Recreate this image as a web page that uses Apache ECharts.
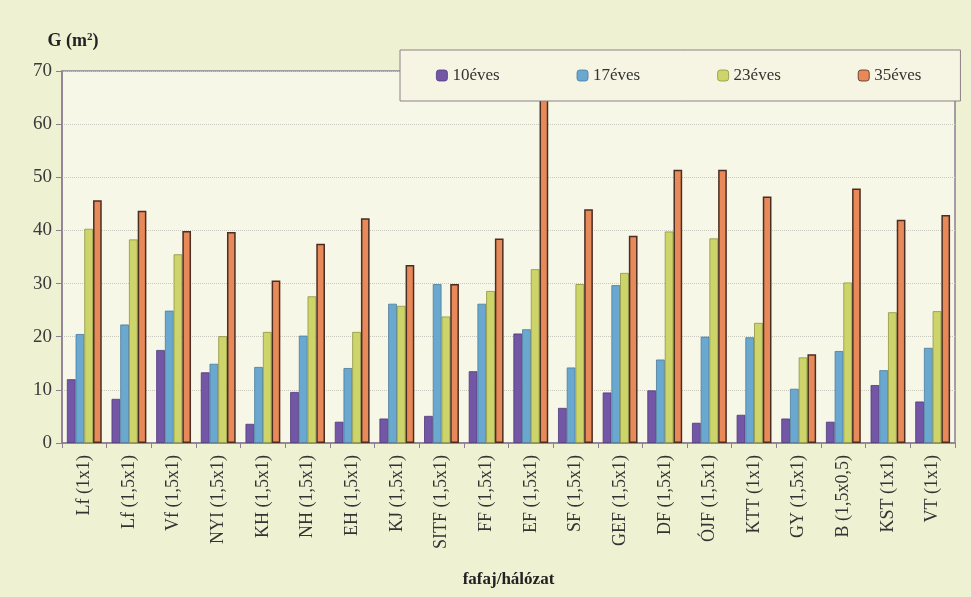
<!DOCTYPE html>
<html>
<head>
<meta charset="utf-8">
<script src="https://cdn.jsdelivr.net/npm/echarts@6/dist/echarts.min.js"></script>
<style>
  html, body { margin: 0; padding: 0; background: #eef1d2; }
  #chart { width: 971px; height: 597px; }
</style>
</head>
<body>
<div id="chart"></div>
<script>
var categories = ['Lf (1x1)', 'Lf (1,5x1)', 'Vf (1,5x1)', 'NYI (1,5x1)', 'KH (1,5x1)', 'NH (1,5x1)',
    'EH (1,5x1)', 'KJ (1,5x1)', 'SITF (1,5x1)', 'FF (1,5x1)', 'EF (1,5x1)', 'SF (1,5x1)',
    'GEF (1,5x1)', 'DF (1,5x1)', 'ÓJF (1,5x1)', 'KTT (1x1)', 'GY (1,5x1)', 'B (1,5x0,5)',
    'KST (1x1)', 'VT (1x1)'];
var seriesNames = ['10éves', '17éves', '23éves', '35éves'];
var ev10 = [12.0, 8.3, 17.5, 13.3, 3.6, 9.6, 4.0, 4.6, 5.1, 13.5, 20.6, 6.6, 9.5, 9.9, 3.8, 5.3, 4.6, 4.0, 10.9, 7.8];
var ev17 = [20.5, 22.3, 24.9, 14.9, 14.3, 20.2, 14.1, 26.2, 29.9, 26.2, 21.4, 14.2, 29.7, 15.7, 20.0, 19.9, 10.2, 17.3, 13.7, 17.9];
var ev23 = [40.3, 38.3, 35.5, 20.1, 20.9, 27.6, 20.9, 25.8, 23.8, 28.6, 32.7, 29.9, 32.0, 39.8, 38.5, 22.6, 16.1, 30.2, 24.6, 24.8];
var ev35 = [45.7, 43.7, 39.9, 39.7, 30.6, 37.5, 42.3, 33.5, 29.9, 38.5, 66.0, 44.0, 39.0, 51.4, 51.4, 46.4, 16.7, 47.9, 42.0, 42.9];
var yTicks = [0, 10, 20, 30, 40, 50, 60, 70];

var colors = ['#7357a6', '#6aa8cf', '#cdd46a', '#e8895a'];
var borders = ['#4e3a78', '#4a7c9c', '#8e9440', '#4a2e22'];
var values = [ev10, ev17, ev23, ev35];

var serif = '"Liberation Serif", "DejaVu Serif", serif';
var myChart = echarts.init(document.getElementById('chart'));

var series = [];
for (var i = 0; i < seriesNames.length; i++) {
    series.push({
        name: seriesNames[i],
        type: 'bar',
        barGap: '0%',
        barCategoryGap: '22%',
        data: values[i],
        itemStyle: {
            color: colors[i],
            borderColor: borders[i],
            borderWidth: i === 3 ? 1.5 : 0.8
        }
    });
}

var option = {
    backgroundColor: '#eef1d2',
    color: colors,
    textStyle: { fontFamily: serif },
    legend: {
        left: 400,
        top: 50,
        padding: [17, 39, 17, 36],
        itemWidth: 11,
        itemHeight: 11,
        itemGap: 77,
        backgroundColor: '#f6f5e3',
        borderColor: '#8d8088',
        borderWidth: 1,
        textStyle: { fontFamily: serif, fontSize: 17, color: '#333' },
        data: seriesNames.map(function (n, i) {
            return { name: n, itemStyle: { borderColor: borders[i], borderWidth: 0.8 } };
        })
    },
    grid: {
        left: 62,
        right: 16,
        top: 71,
        bottom: 154,
        show: true,
        backgroundColor: '#f7f7e8',
        borderColor: '#8d7f92',
        borderWidth: 1.5
    },
    xAxis: {
        type: 'category',
        data: categories,
        name: 'fafaj/hálózat',
        nameLocation: 'middle',
        nameGap: 128,
        nameTextStyle: { fontFamily: serif, fontSize: 17, fontWeight: 'bold', color: '#222' },
        axisLine: { lineStyle: { color: '#8d7f92', width: 1.5 } },
        axisTick: { show: true, length: 5, lineStyle: { color: '#8d7f92' } },
        axisLabel: { rotate: 90, fontFamily: serif, fontSize: 18, color: '#333', margin: 12 }
    },
    yAxis: {
        type: 'value',
        min: 0,
        max: 70,
        interval: 10,
        name: '{b|G (m}{s|2}{b|)}',
        nameGap: 20,
        nameTextStyle: {
            padding: [0, 0, 0, 22],
            rich: {
                b: { fontFamily: serif, fontSize: 18, fontWeight: 'bold', color: '#222' },
                s: { fontFamily: serif, fontSize: 11, fontWeight: 'bold', color: '#222', verticalAlign: 'top', padding: [0, 0, 8, 0] }
            }
        },
        axisLine: { show: true, lineStyle: { color: '#8d7f92', width: 1.5 } },
        axisTick: { show: true, length: 6, lineStyle: { color: '#8d7f92' } },
        axisLabel: {
            fontFamily: serif, fontSize: 19, color: '#3a3a3a', margin: 10,
            formatter: function (v) { return yTicks.indexOf(v) >= 0 ? String(v) : ''; }
        },
        splitLine: { show: true, lineStyle: { color: '#c9c9c0', type: 'dotted', width: 1 } }
    },
    series: series
};

myChart.setOption(option, true);
</script>
</body>
</html>
